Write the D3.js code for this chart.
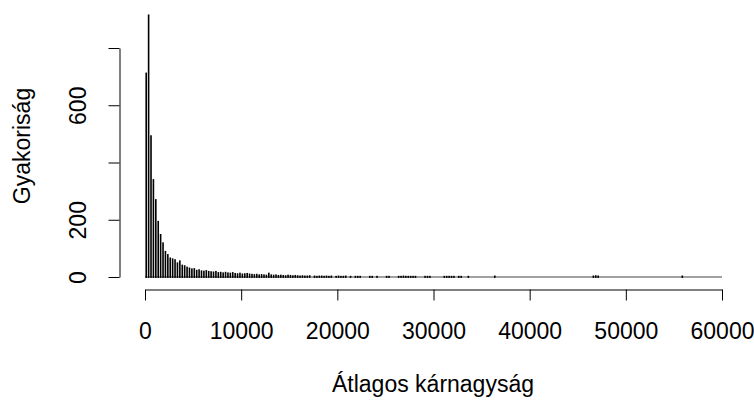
<!DOCTYPE html>
<html>
<head>
<meta charset="utf-8">
<script src="https://cdn.jsdelivr.net/npm/d3@7"></script>
<style>
  body { margin: 0; background: #fff; }
  text { font-family: "Liberation Sans", Arial, sans-serif; }
</style>
</head>
<body>
<div class="chart"></div>
<script>
// histogram bins (width 250) and their counts
const binWidth = 250;
const counts = [
  711, 914, 492, 339, 269, 193, 147, 118, 88, 77,
  65, 62, 59, 48, 55, 40, 38, 33, 30, 27,
  28, 22, 24, 20, 19, 21, 18, 17, 16, 18,
  14, 15, 13, 15, 13, 12, 14, 11, 10, 12,
  9, 10, 11, 9, 8, 7, 8, 6, 7, 6,
  5, 12, 6, 5, 6, 4, 5, 4, 3, 5,
  4, 3, 4, 3, 2, 3, 2, 2, 3, 0,
  2, 1, 2, 2, 1, 2, 1, 2, 0, 1,
  2, 1, 1, 2, 0, 1, 0, 1, 1, 1,
  0, 0, 0, 1, 1, 0, 1, 0, 0, 0,
  1, 1, 0, 0, 0, 1, 1, 2, 1, 1,
  1, 1, 1, 0, 0, 0, 1, 1, 1, 0,
  0, 0, 0, 0, 1, 1, 1, 1, 1, 0,
  1, 1, 0, 0, 1, 0, 0, 0, 0, 0,
  0, 0, 0, 0, 0, 2, 0, 0, 0, 0,
  0, 0, 0, 0, 0, 0, 0, 0, 0, 0,
  0, 0, 0, 0, 0, 0, 0, 0, 0, 0,
  0, 0, 0, 0, 0, 0, 0, 0, 0, 0,
  0, 0, 0, 0, 0, 0, 2, 3, 2, 0,
  0, 0, 0, 0, 0, 0, 0, 0, 0, 0,
  0, 0, 0, 0, 0, 0, 0, 0, 0, 0,
  0, 0, 0, 0, 0, 0, 0, 0, 0, 0,
  0, 0, 0, 2, 0, 0, 0, 0, 0, 0,
  0, 0, 0, 0, 0, 0, 0, 0, 0, 0,
];

const xTicks = [0, 10000, 20000, 30000, 40000, 50000, 60000];
const yTicks = [0, 200, 400, 600, 800];
// R drops the labels that would overlap
const yLabels = ["0", "200", "", "600", ""];

const xTitle = "Átlagos kárnagyság";
const yTitle = "Gyakoriság";

const width = 754;
const height = 401;

const x = d3.scaleLinear().domain([0, 60000]).range([145, 722]);
const y = d3.scaleLinear().domain([0, 800]).range([277, 48]);

const svg = d3
  .select(".chart")
  .append("svg")
  .attr("width", width)
  .attr("height", height);

const bins = counts.map((c, i) => ({ x0: i * binWidth, x1: (i + 1) * binWidth, count: c }));

// empty bins still leave R's zero-height outline along the bottom
svg
  .append("line")
  .attr("x1", x(0))
  .attr("x2", x(bins.length * binWidth))
  .attr("y1", y(0))
  .attr("y2", y(0))
  .attr("stroke", "#444")
  .attr("stroke-width", 1);

// narrow outlined bars end up almost solid black, with thin light gaps between them
const gap = 0.4;
const edge = 0.9; // half of the outline, added on top and bottom
svg
  .append("g")
  .attr("fill", "#000")
  .selectAll("rect")
  .data(bins.filter((d) => d.count > 0))
  .join("rect")
  .attr("x", (d) => x(d.x0) + gap)
  .attr("width", (d) => x(d.x1) - x(d.x0) - 2 * gap)
  .attr("y", (d) => y(d.count) - edge)
  .attr("height", (d) => y(0) - y(d.count) + 2 * edge);

const tickLen = 11;

// x axis, offset below the bars like R does
const xAxis = svg
  .append("g")
  .attr("transform", "translate(0,289.5)")
  .call(d3.axisBottom(x).tickValues(xTicks).tickSize(tickLen).tickSizeOuter(0).tickFormat(d3.format("d")));

xAxis.select(".domain").attr("stroke", "#000");
xAxis.selectAll(".tick line").attr("stroke", "#000");
xAxis
  .selectAll(".tick text")
  .attr("y", 0)
  .attr("dy", null)
  .attr("transform", "translate(0,49.5)")
  .attr("font-size", 23)
  .attr("font-family", "Liberation Sans, Arial, sans-serif")
  .attr("fill", "#000");

// y axis
const yAxis = svg
  .append("g")
  .attr("transform", "translate(119.5,0)")
  .call(d3.axisLeft(y).tickValues(yTicks).tickSize(tickLen).tickSizeOuter(0).tickFormat((d, i) => yLabels[i]));

yAxis.select(".domain").attr("stroke", "#000");
yAxis.selectAll(".tick line").attr("stroke", "#000");
yAxis
  .selectAll(".tick text")
  .attr("x", 0)
  .attr("dy", null)
  .attr("text-anchor", "middle")
  .attr("transform", "translate(-33.5,0) rotate(-90)")
  .attr("font-size", 23)
  .attr("font-family", "Liberation Sans, Arial, sans-serif")
  .attr("fill", "#000");

// titles
svg
  .append("text")
  .attr("x", 433)
  .attr("y", 392)
  .attr("text-anchor", "middle")
  .attr("font-size", 23)
  .text(xTitle);

svg
  .append("text")
  .attr("transform", "translate(30,146) rotate(-90)")
  .attr("text-anchor", "middle")
  .attr("font-size", 23)
  .text(yTitle);
</script>
</body>
</html>
